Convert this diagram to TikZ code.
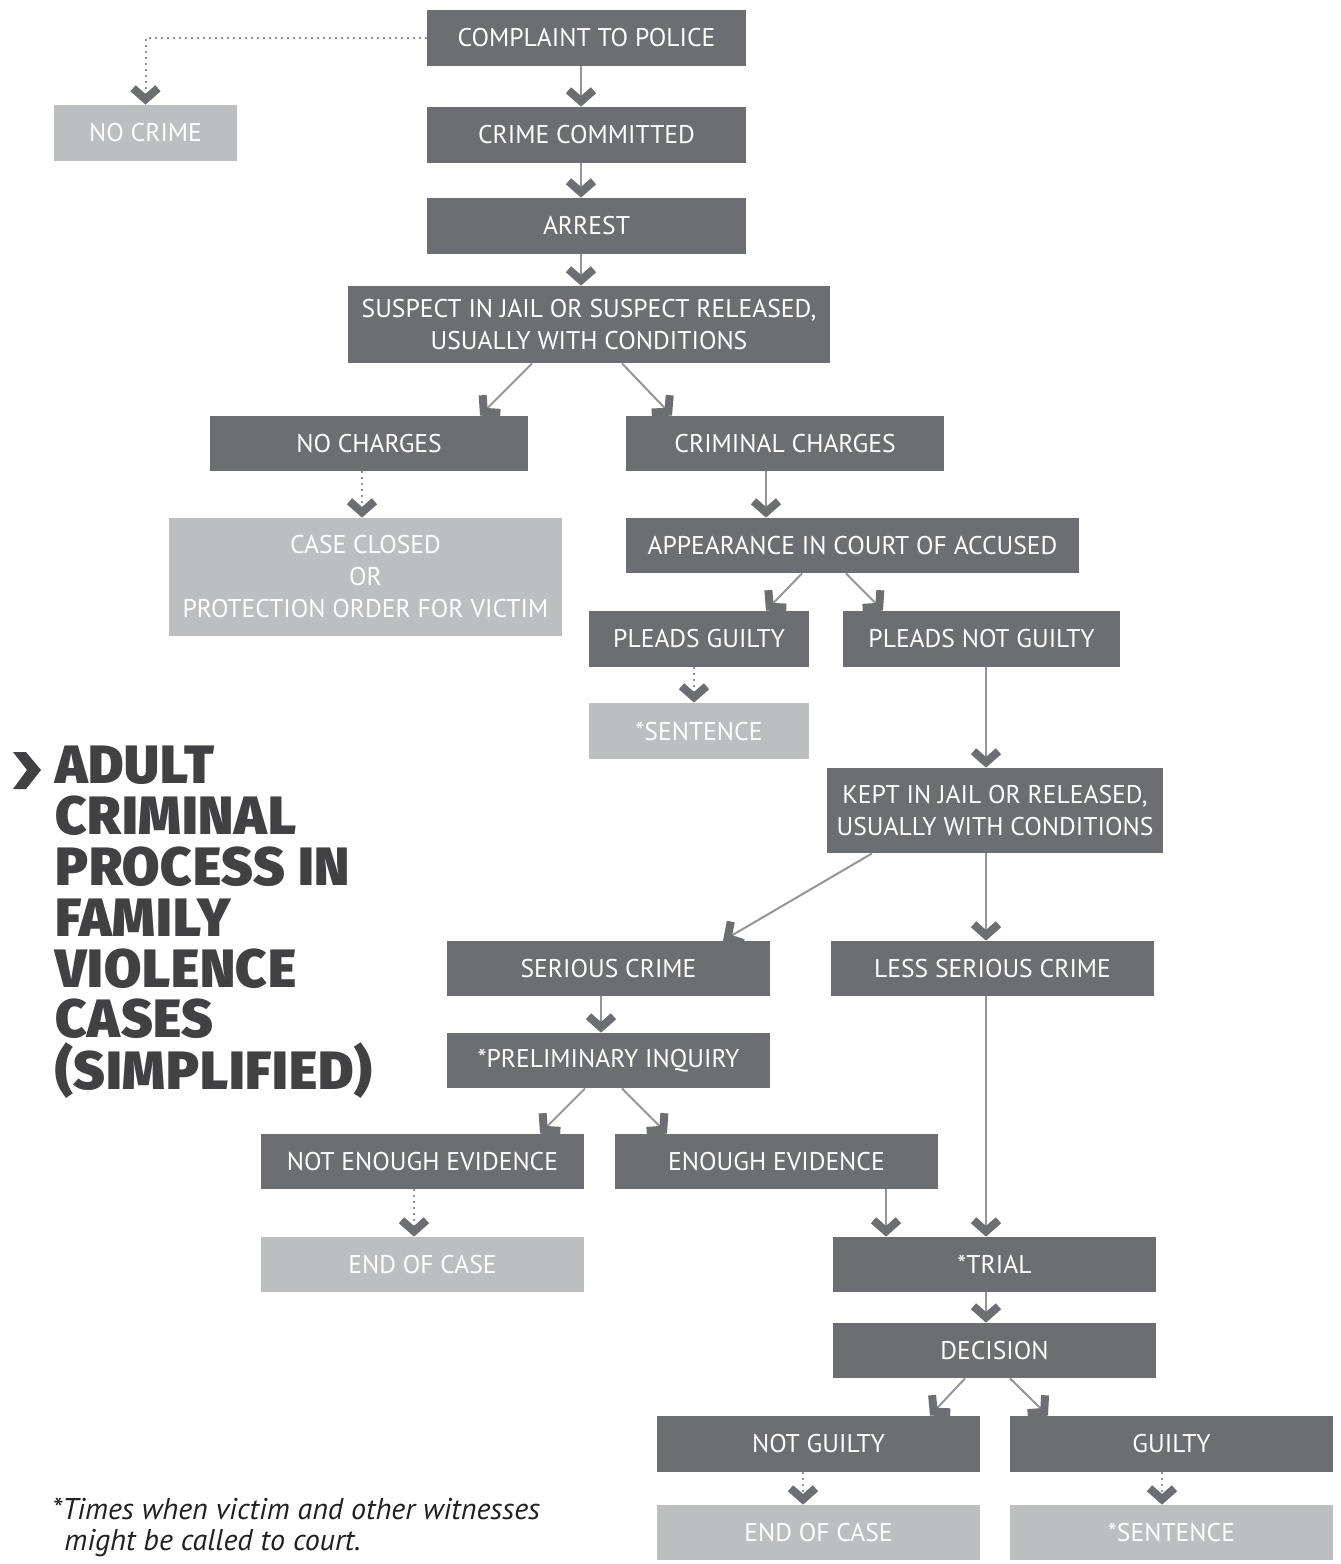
\documentclass[tikz,border=0pt]{standalone}
\usepackage{fontspec}
\setmainfont{PT Sans}
\newfontfamily\headfont{Fira Sans Black}[LetterSpace=1.5]
\usetikzlibrary{arrows.meta}
\definecolor{boxdark}{HTML}{6D6E71}
\definecolor{boxpale}{HTML}{BCBEC0}
\definecolor{linegray}{HTML}{939598}
\definecolor{headgray}{HTML}{414042}
\definecolor{notegray}{HTML}{231F20}

\begin{document}
\begin{tikzpicture}[
  x=0.5pt,y=-0.5pt,
  >={Straight Barb[length=5.5pt,width=12.5pt,line width=4pt,line join=miter,line cap=butt,color=boxdark]},
  box/.style={fill=boxdark,text=white,inner sep=0pt,minimum width=161.5pt,
    minimum height=27.5pt,align=center,font=\fontsize{12.8}{16}\selectfont},
  pale/.style={box,fill=boxpale},
  flow/.style={->,draw=linegray,line width=1pt},
  maybe/.style={flow,dotted}
]
  \useasboundingbox (0,0) rectangle (1340,1564);

  \node[box,minimum width=159.5pt,minimum height=28pt] (complaint) at (586.5,38) {COMPLAINT TO POLICE};
  \node[pale,minimum width=91.5pt,minimum height=28pt] (nocrime) at (145.5,133) {NO CRIME};
  \node[box,minimum width=159.5pt,minimum height=28pt] (crime) at (586.5,135) {CRIME COMMITTED};
  \node[box,minimum width=159.5pt,minimum height=28pt] (arrest) at (586.5,226) {ARREST};
  \node[box,minimum width=241pt,minimum height=38.5pt] (suspect) at (589,324.5) {SUSPECT IN JAIL OR SUSPECT RELEASED,\\USUALLY WITH CONDITIONS};
  \node[box,minimum width=159pt] (nocharges) at (369,443.5) {NO CHARGES};
  \node[box,minimum width=159pt] (charges) at (785,443.5) {CRIMINAL CHARGES};
  \node[pale,minimum width=196.5pt,minimum height=59pt] (closed) at (365.5,577) {CASE CLOSED\\OR\\PROTECTION ORDER FOR VICTIM};
  \node[box,minimum width=226.5pt] (appear) at (852.5,545.5) {APPEARANCE IN COURT OF ACCUSED};
  \node[box,minimum width=110pt,minimum height=28pt] (guiltyplea) at (699,639) {PLEADS GUILTY};
  \node[box,minimum width=138.5pt,minimum height=28pt] (notguiltyplea) at (981.5,639) {PLEADS NOT GUILTY};
  \node[pale,minimum width=110pt,minimum height=28pt] (sentenceA) at (699,731) {*SENTENCE};
  \node[box,minimum width=168pt,minimum height=42.5pt] (kept) at (995,810.5) {KEPT IN JAIL OR RELEASED,\\USUALLY WITH CONDITIONS};
  \node[box] (serious) at (608.5,968.5) {SERIOUS CRIME};
  \node[box] (lessserious) at (992.5,968.5) {LESS SERIOUS CRIME};
  \node[box] (inquiry) at (608.5,1060.5) {*PRELIMINARY INQUIRY};
  \node[box] (notenough) at (422.5,1161.5) {NOT ENOUGH EVIDENCE};
  \node[box] (enough) at (776.5,1161.5) {ENOUGH EVIDENCE};
  \node[pale] (endA) at (422.5,1264.5) {END OF CASE};
  \node[box] (trial) at (994.5,1264.5) {*TRIAL};
  \node[box] (decision) at (994.5,1350.5) {DECISION};
  \node[box,minimum height=28pt] (notguilty) at (818.5,1444) {NOT GUILTY};
  \node[box,minimum height=28pt] (guilty) at (1171.5,1444) {GUILTY};
  \node[pale] (endB) at (818.5,1532.5) {END OF CASE};
  \node[pale] (sentenceB) at (1171.5,1532.5) {*SENTENCE};

  \draw[maybe] (complaint.west) -| (nocrime.north);
  \draw[flow] ([xshift=-2.75pt]complaint.south) -- ([xshift=-2.75pt]crime.north);
  \draw[flow] ([xshift=-2.75pt]crime.south) -- ([xshift=-2.75pt]arrest.north);
  \draw[flow] ([xshift=-2.75pt]arrest.south) -- ([xshift=-4pt]suspect.north);
  \draw[flow] ([xshift=-28.5pt]suspect.south) -- ([xshift=55.5pt]nocharges.north);
  \draw[flow] ([xshift=16.5pt]suspect.south) -- ([xshift=-56.5pt]charges.north);
  \draw[maybe] ([xshift=-3.5pt]nocharges.south) -- ([xshift=-1.75pt]closed.north);
  \draw[flow] ([xshift=-9.5pt]charges.south) -- ([xshift=-43.25pt]appear.north);
  \draw[flow] ([xshift=-25.25pt]appear.south) -- ([xshift=33.5pt]guiltyplea.north);
  \draw[flow] ([xshift=-3.25pt]appear.south) -- ([xshift=-49.25pt]notguiltyplea.north);
  \draw[maybe] ([xshift=-2.5pt]guiltyplea.south) -- ([xshift=-2.5pt]sentenceA.north);
  \draw[flow] ([xshift=2.25pt]notguiltyplea.south) -- ([xshift=-4.5pt]kept.north);
  \draw[flow] ([xshift=-61.5pt]kept.south) -- ([xshift=57.25pt]serious.north);
  \draw[flow] ([xshift=-4.5pt]kept.south) -- ([xshift=-3.25pt]lessserious.north);
  \draw[flow] ([xshift=-3.75pt]serious.south) -- ([xshift=-3.75pt]inquiry.north);
  \draw[flow] ([xshift=-11.75pt]inquiry.south) -- ([xshift=58.75pt]notenough.north);
  \draw[flow] ([xshift=6.75pt]inquiry.south) -- ([xshift=-54.75pt]enough.north);
  \draw[maybe] ([xshift=-4.25pt]notenough.south) -- ([xshift=-4.25pt]endA.north);
  \draw[flow] ([xshift=54.75pt]enough.south) -- ([xshift=-54.25pt]trial.north);
  \draw[flow] ([xshift=-3.25pt]lessserious.south) -- ([xshift=-4.25pt]trial.north);
  \draw[flow] ([xshift=-4.25pt]trial.south) -- ([xshift=-4.25pt]decision.north);
  \draw[flow] ([xshift=-14.75pt]decision.south) -- ([xshift=55.75pt]notguilty.north);
  \draw[flow] ([xshift=7.75pt]decision.south) -- ([xshift=-61.75pt]guilty.north);
  \draw[maybe] ([xshift=-7.75pt]notguilty.south) -- ([xshift=-7.75pt]endB.north);
  \draw[maybe] ([xshift=-4.75pt]guilty.south) -- ([xshift=-4.75pt]sentenceB.north);

  \fill[headgray] (13,752) -- (26,752) -- (41,770) -- (26,789) -- (13,789) -- (27,770) -- cycle;
  \node[anchor=north west,inner sep=0pt,align=left,text=headgray,
    font=\headfont\fontsize{27}{25.5}\selectfont] (title) at (55,745)
    {ADULT\\CRIMINAL\\PROCESS IN\\FAMILY\\VIOLENCE\\CASES\\(SIMPLIFIED)};
  \node[anchor=north west,inner sep=0pt,align=left,text=notegray,
    font=\itshape\fontsize{15}{15.5}\selectfont] (note) at (52,1498)
    {*Times when victim and other witnesses\\\hspace*{6pt}might be called to court.};
\end{tikzpicture}
\end{document}
